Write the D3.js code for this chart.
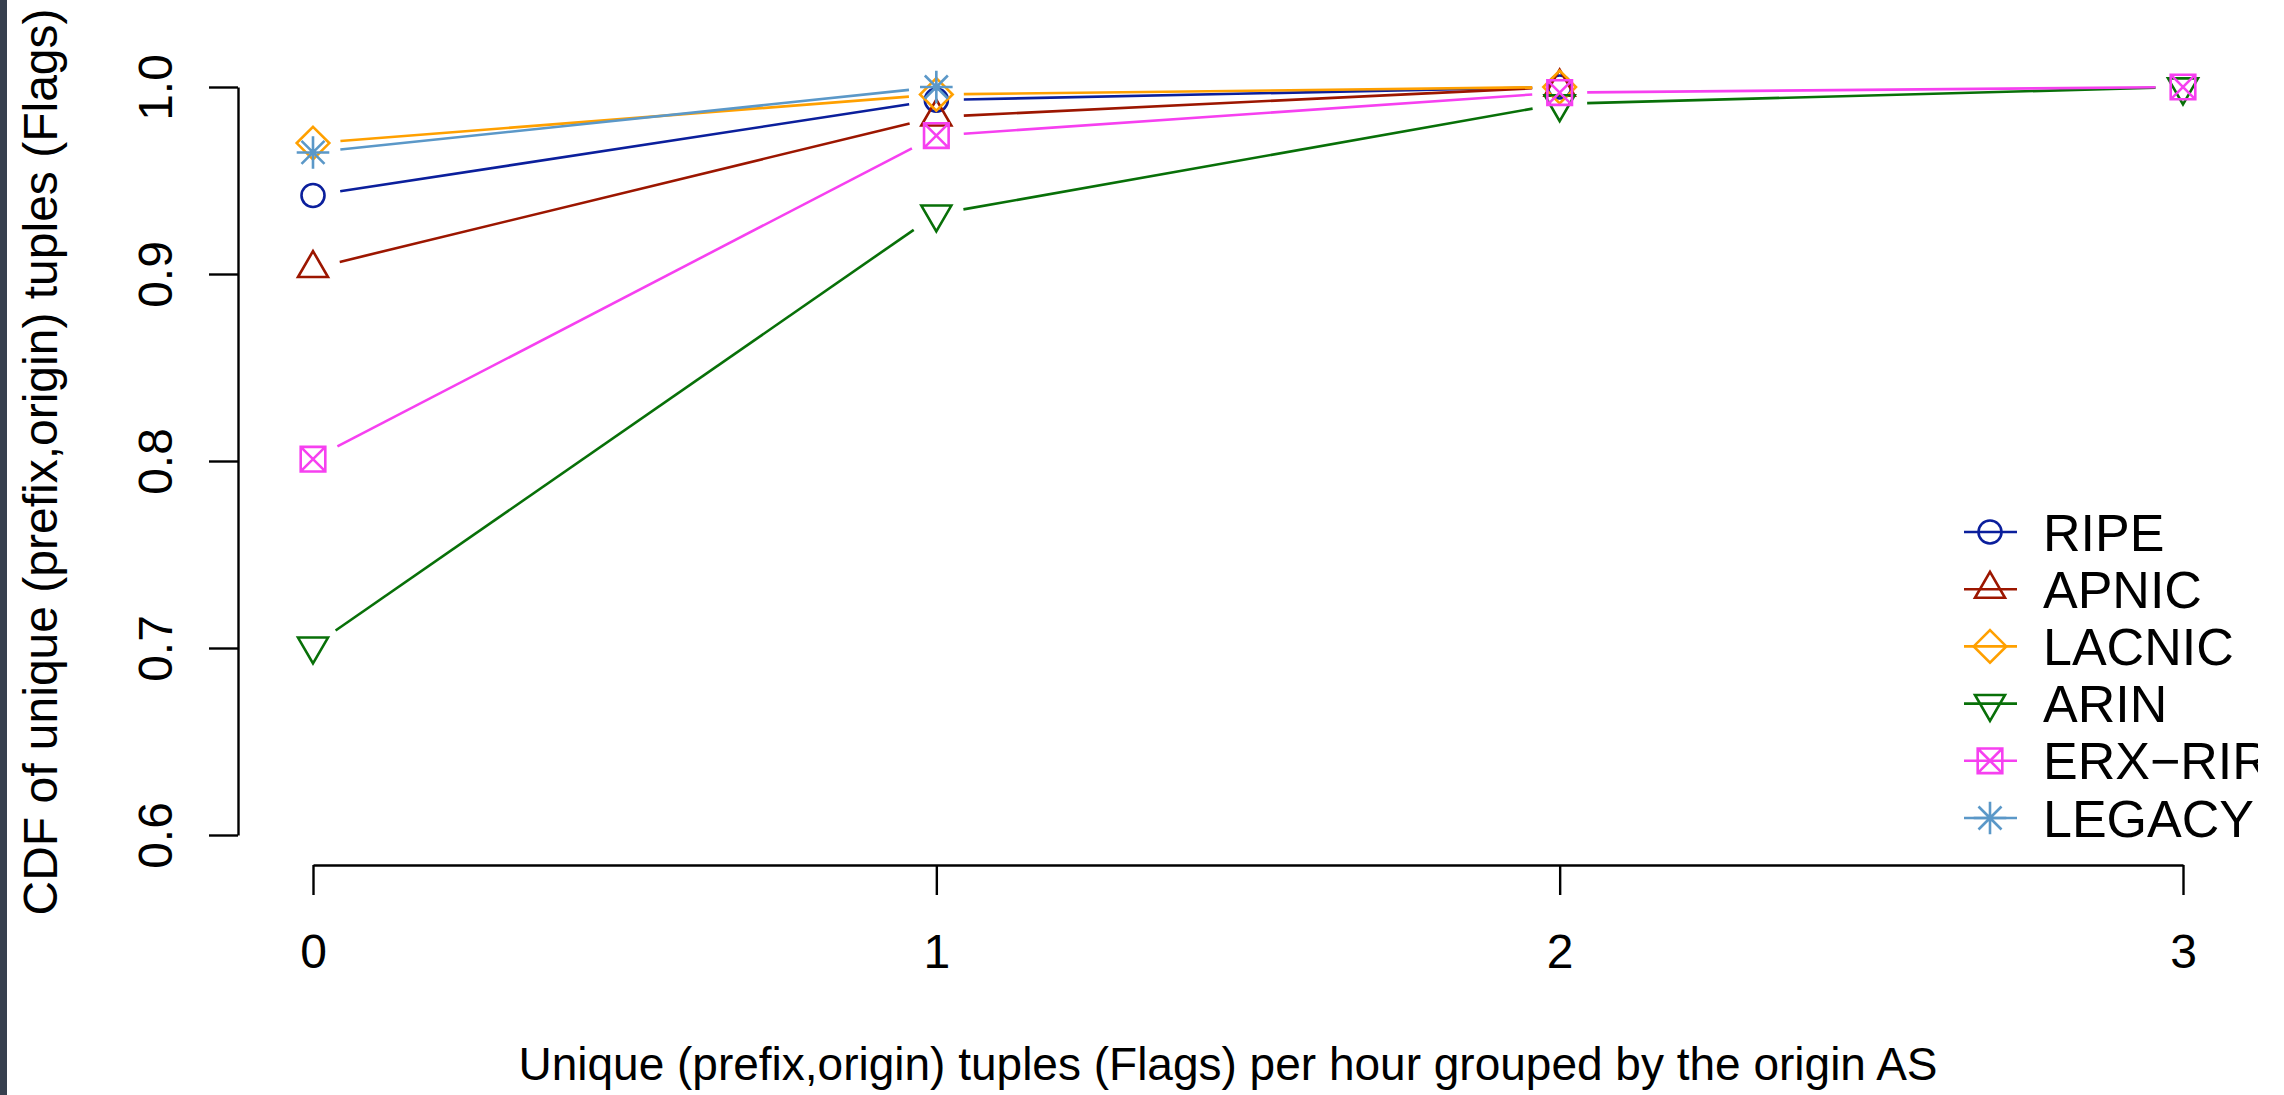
<!DOCTYPE html>
<html>
<head>
<meta charset="utf-8">
<script src="https://cdn.jsdelivr.net/npm/d3@7"></script>
<style>
  body { margin: 0; background: #fff; }
  svg { display: block; }
  text { font-family: "Liberation Sans", Arial, Helvetica, sans-serif; fill: #000; }
</style>
</head>
<body>
<svg id="chart"></svg>
<script>
// x positions (number of flags) and CDF values per registry
const xTicks = [0, 1, 2, 3];
const yTicks = [0.6, 0.7, 0.8, 0.9, 1.0];
const seriesNames = ['RIPE', 'APNIC', 'LACNIC', 'ARIN', 'ERX\u2212RIR', 'LEGACY'];
const ripe   = [0.942, 0.993, 1.0];
const apnic  = [0.903, 0.984, 1.0];
const lacnic = [0.970, 0.996, 1.0];
const arin   = [0.701, 0.932, 0.991, 1.0];
const erx    = [0.801, 0.974, 0.997, 1.0];
const legacy = [0.965, 1.0];
const colors = ['#0b1f9c', '#9c1600', '#ffa000', '#087008', '#f640f0', '#5b98c8'];
const shapes = ['circle', 'triUp', 'diamond', 'triDown', 'boxX', 'star'];

class CdfChart {

  constructor(_config) {
    this.config = {
      parentElement: _config.parentElement,
      containerWidth: _config.containerWidth || 2284,
      containerHeight: _config.containerHeight || 1095,
    }
    this.initVis();
  }

  initVis() {
    let vis = this;

    vis.svg = d3.select(vis.config.parentElement)
        .attr('width', vis.config.containerWidth)
        .attr('height', vis.config.containerHeight);

    // the original image is cut off on the right, through the legend text
    vis.svg.append('clipPath')
        .attr('id', 'cut')
        .append('rect')
        .attr('x', 0).attr('y', 0)
        .attr('width', 2258).attr('height', vis.config.containerHeight);

    // dark strip on the very left edge
    vis.svg.append('rect')
        .attr('x', 0).attr('y', 0)
        .attr('width', 7).attr('height', vis.config.containerHeight)
        .attr('fill', '#373f4e');

    vis.xScale = d3.scaleLinear().domain([0, 3]).range([313, 2183]);
    vis.yScale = d3.scaleLinear().domain([0.6, 1.0]).range([835, 87]);

    // R style axes, detached from the plot box
    vis.xAxisG = vis.svg.append('g')
        .attr('transform', 'translate(0,865)')
        .call(d3.axisBottom(vis.xScale).tickValues(xTicks).tickSize(30).tickSizeOuter(0)
            .tickFormat(d3.format('d')));
    vis.yAxisG = vis.svg.append('g')
        .attr('transform', 'translate(238,0)')
        .call(d3.axisLeft(vis.yScale).tickValues(yTicks).tickSize(29).tickSizeOuter(0)
            .tickFormat(d3.format('.1f')));

    vis.svg.selectAll('.domain, .tick line')
        .attr('stroke', '#000')
        .attr('stroke-width', 2.4);

    vis.xAxisG.selectAll('.tick text')
        .attr('font-size', 48)
        .attr('dy', null)
        .attr('y', 103);

    vis.yAxisG.selectAll('.tick text')
        .attr('font-size', 48)
        .attr('x', null).attr('dy', null)
        .attr('text-anchor', 'middle')
        .attr('transform', 'translate(-66,0) rotate(-90)');

    vis.svg.append('text')
        .attr('x', 1228).attr('y', 1080)
        .attr('font-size', 46)
        .attr('text-anchor', 'middle')
        .text('Unique (prefix,origin) tuples (Flags) per hour grouped by the origin AS');

    vis.svg.append('text')
        .attr('transform', 'translate(57,462) rotate(-90)')
        .attr('font-size', 48)
        .attr('text-anchor', 'middle')
        .text('CDF of unique (prefix,origin) tuples (Flags)');

    vis.chart = vis.svg.append('g');
    vis.legend = vis.svg.append('g').attr('clip-path', 'url(#cut)');
  }

  markerPath(shape) {
    const p = d3.path();
    if (shape === 'circle') {
      p.arc(0, 0, 11.5, 0, 2 * Math.PI);
    } else if (shape === 'triUp') {
      p.moveTo(0, -17.3); p.lineTo(15, 8.6); p.lineTo(-15, 8.6); p.closePath();
    } else if (shape === 'triDown') {
      p.moveTo(0, 17.3); p.lineTo(15, -8.6); p.lineTo(-15, -8.6); p.closePath();
    } else if (shape === 'diamond') {
      p.moveTo(0, -16.3); p.lineTo(16.3, 0); p.lineTo(0, 16.3); p.lineTo(-16.3, 0); p.closePath();
    } else if (shape === 'boxX') {
      p.rect(-12.3, -12.3, 24.6, 24.6);
      p.moveTo(-12.3, -12.3); p.lineTo(12.3, 12.3);
      p.moveTo(12.3, -12.3); p.lineTo(-12.3, 12.3);
    } else if (shape === 'star') {
      p.moveTo(-16.3, 0); p.lineTo(16.3, 0);
      p.moveTo(0, -16.3); p.lineTo(0, 16.3);
      p.moveTo(-11.5, -11.5); p.lineTo(11.5, 11.5);
      p.moveTo(11.5, -11.5); p.lineTo(-11.5, 11.5);
    }
    return p.toString();
  }

  updateVis(series) {
    let vis = this;
    vis.series = series;
    vis.renderVis();
  }

  renderVis() {
    let vis = this;
    const gap = 27.5;

    vis.series.forEach((s, i) => {
      const pts = s.values.map((v, j) => [vis.xScale(xTicks[j]), vis.yScale(v)]);

      // type = "b": line segments stop short of each point
      const segs = d3.pairs(pts).map(([a, b]) => {
        const dx = b[0] - a[0], dy = b[1] - a[1];
        const len = Math.hypot(dx, dy);
        const ux = dx / len, uy = dy / len;
        return [a[0] + ux * gap, a[1] + uy * gap, b[0] - ux * gap, b[1] - uy * gap];
      });

      vis.chart.selectAll(`.seg-${i}`)
          .data(segs)
          .join('line')
          .attr('class', `seg-${i}`)
          .attr('x1', d => d[0]).attr('y1', d => d[1])
          .attr('x2', d => d[2]).attr('y2', d => d[3])
          .attr('stroke', s.color)
          .attr('stroke-width', 2.6);

      vis.chart.selectAll(`.pt-${i}`)
          .data(pts)
          .join('path')
          .attr('class', `pt-${i}`)
          .attr('transform', d => `translate(${d[0]},${d[1]})`)
          .attr('d', vis.markerPath(s.shape))
          .attr('fill', 'none')
          .attr('stroke', s.color)
          .attr('stroke-width', 2.6);

      // legend row
      const ly = 532 + i * 57.2;
      vis.legend.append('line')
          .attr('x1', 1964).attr('x2', 2017)
          .attr('y1', ly).attr('y2', ly)
          .attr('stroke', s.color)
          .attr('stroke-width', 2.6);
      vis.legend.append('path')
          .attr('transform', `translate(1990,${ly})`)
          .attr('d', vis.markerPath(s.shape))
          .attr('fill', 'none')
          .attr('stroke', s.color)
          .attr('stroke-width', 2.6);
      vis.legend.append('text')
          .attr('x', 2043).attr('y', ly + 18.5)
          .attr('font-size', 52)
          .text(s.name);
    });
  }
}

const allValues = [ripe, apnic, lacnic, arin, erx, legacy];
const series = seriesNames.map((name, i) => ({
  name: name, values: allValues[i], color: colors[i], shape: shapes[i]
}));

const chart = new CdfChart({ parentElement: '#chart' });
chart.updateVis(series);
</script>
</body>
</html>
